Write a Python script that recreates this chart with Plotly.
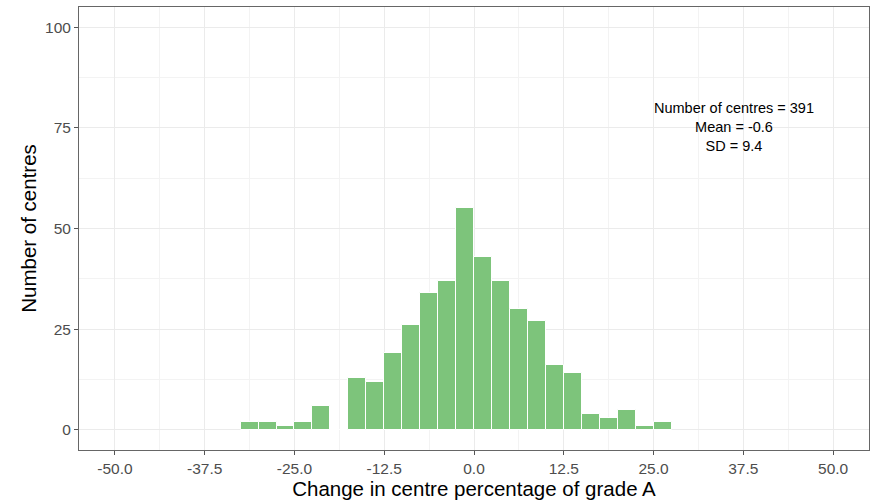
import plotly.graph_objects as go

bin_starts = [-32.5, -30, -27.5, -25, -22.5, -20, -17.5, -15, -12.5, -10, -7.5, -5, -2.5,
              0, 2.5, 5, 7.5, 10, 12.5, 15, 17.5, 20, 22.5, 25]
counts = [2, 2, 1, 2, 6, 0, 13, 12, 19, 26, 34, 37, 55,
          43, 37, 30, 27, 16, 14, 4, 3, 5, 1, 2]
bin_width = 2.5
x_ticks = [-50, -37.5, -25, -12.5, 0, 12.5, 25, 37.5, 50]
x_tick_labels = ["-50.0", "-37.5", "-25.0", "-12.5", "0.0", "12.5", "25.0", "37.5", "50.0"]
y_ticks = [0, 25, 50, 75, 100]
stats_text = "Number of centres = 391<br>Mean = -0.6<br>SD = 9.4"

centers = [s + bin_width / 2 for s in bin_starts]
FONT = "Liberation Sans, Arial, sans-serif"

fig = go.Figure()
fig.add_trace(go.Bar(
    x=centers, y=counts, width=bin_width,
    marker=dict(color="#7dc47b", line=dict(color="white", width=1)),
    showlegend=False, hoverinfo="x+y",
))

fig.add_annotation(x=36.2, y=75.2, xref="x", yref="y", text=stats_text,
                   showarrow=False, align="center",
                   font=dict(family=FONT, size=14.5, color="black"))

axis_common = dict(
    showline=True, linecolor="#666666", linewidth=1, mirror=True,
    ticks="outside", ticklen=4, tickcolor="#555555", tickwidth=1,
    gridcolor="#ebebeb", gridwidth=1, zeroline=False,
    tickfont=dict(family=FONT, size=15.5, color="#4d4d4d"),
)

fig.update_xaxes(
    range=[-55, 55], tickvals=x_ticks, ticktext=x_tick_labels,
    minor=dict(tick0=-50, dtick=6.25, showgrid=True, gridcolor="#f3f3f3", gridwidth=0.5, ticks=""),
    title=dict(text="Change in centre percentage of grade A", standoff=4,
               font=dict(family=FONT, size=20.5, color="black")),
    **axis_common,
)
fig.update_yaxes(
    range=[-5, 105], tickvals=y_ticks,
    minor=dict(tick0=0, dtick=12.5, showgrid=True, gridcolor="#f3f3f3", gridwidth=0.5, ticks=""),
    title=dict(text="Number of centres", standoff=2,
               font=dict(family=FONT, size=20.5, color="black")),
    **axis_common,
)

fig.update_layout(
    width=871, height=502,
    margin=dict(l=79, r=2, t=7, b=52),
    plot_bgcolor="white", paper_bgcolor="white",
    bargap=0,
)

fig.write_html("out.html")
